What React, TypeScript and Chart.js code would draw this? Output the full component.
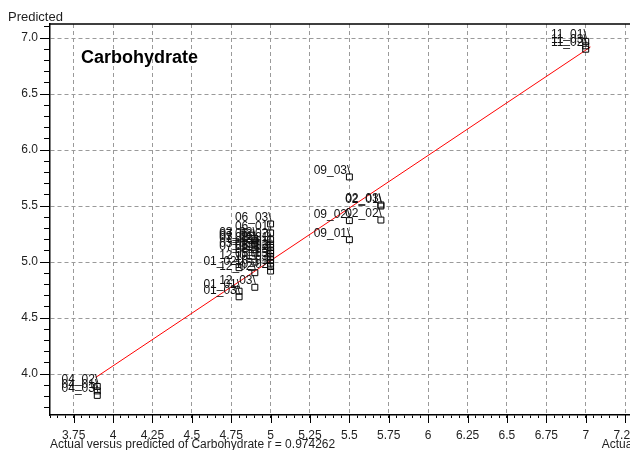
import React, { useEffect, useRef } from "react";
import { Chart, registerables } from "chart.js";

Chart.register(...registerables);

// Sample identifiers (sample_replicate)
const sampleIds = [
  "01_01", "01_02", "01_03",
  "02_01", "02_02", "02_03",
  "03_01", "03_02", "03_03",
  "04_01", "04_02", "04_03",
  "05_01", "05_02", "05_03",
  "06_01", "06_02", "06_03",
  "07_01", "07_02", "07_03",
  "08_01", "08_02", "08_03",
  "09_01", "09_02", "09_03",
  "10_01", "10_02", "10_03",
  "11_01", "11_02", "11_03",
  "12_01", "12_02", "12_03",
];

// Measured carbohydrate content
const actualValues = [
  4.8, 4.8, 4.8,
  5.7, 5.7, 5.7,
  4.9, 4.9, 4.9,
  3.9, 3.9, 3.9,
  5.0, 5.0, 5.0,
  5.0, 5.0, 5.0,
  4.9, 4.9, 4.9,
  5.0, 5.0, 5.0,
  5.5, 5.5, 5.5,
  5.0, 5.0, 5.0,
  7.0, 7.0, 7.0,
  4.9, 4.9, 4.9,
];

// Model predictions
const predictedValues = [
  4.74, 4.95, 4.69,
  5.50, 5.375, 5.51,
  5.17, 5.21, 5.11,
  3.85, 3.89, 3.81,
  5.13, 5.08, 5.02,
  5.26, 5.20, 5.34,
  5.08, 5.15, 5.19,
  5.16, 5.10, 5.05,
  5.20, 5.37, 5.76,
  4.96, 4.92, 4.99,
  6.97, 6.90, 6.93,
  5.00, 4.905, 4.775,
];

// Fitted line end points
const fitX = [3.89, 7.03];
const fitY = [3.97, 6.92];

// Axis ranges and tick spacing
const xRange = [3.6, 7.3];
const yRange = [3.635, 7.125];
const xMinorStep = 0.05;
const xMajorStep = 0.25;
const yMinorStep = 0.1;
const yMajorStep = 0.5;

const chartTitle = "Carbohydrate";
const yAxisTitle = "Predicted";
const xAxisTitle = "Actual versus predicted of Carbohydrate r = 0.974262";
const xAxisShortTitle = "Actual";

const FONT = "'Liberation Sans', Arial, Helvetica, sans-serif";
const TEXT = "#1e1e1e";
const CANVAS_W = 680;
const CANVAS_H = 450;

const isMultiple = (v: number, step: number) =>
  Math.abs(v / step - Math.round(v / step)) < 1e-6;

const decorations = {
  id: "decorations",
  afterDatasetsDraw(chart: any) {
    const { ctx } = chart;
    const meta = chart.getDatasetMeta(0);
    ctx.save();
    ctx.fillStyle = "#111";
    ctx.font = `12px ${FONT}`;
    ctx.textAlign = "right";
    ctx.textBaseline = "alphabetic";
    meta.data.forEach((el: any, i: number) => {
      ctx.fillText(sampleIds[i] + "\\", el.x + 1, el.y - 3);
    });
    ctx.restore();
  },
  afterDraw(chart: any) {
    const { ctx, chartArea: a, scales } = chart;
    const xs = scales.x;
    const ys = scales.y;
    ctx.save();

    // frame on top and right
    ctx.strokeStyle = "#000";
    ctx.lineWidth = 1.5;
    ctx.beginPath();
    ctx.moveTo(a.left, a.top);
    ctx.lineTo(a.right, a.top);
    ctx.lineTo(a.right, a.bottom);
    ctx.stroke();

    // longer marks at the labelled ticks
    ctx.lineWidth = 1;
    ctx.beginPath();
    xs.ticks.forEach((t: any) => {
      if (isMultiple(t.value, xMajorStep)) {
        const px = Math.round(xs.getPixelForValue(t.value)) + 0.5;
        ctx.moveTo(px, a.bottom);
        ctx.lineTo(px, a.bottom + 8);
      }
    });
    ys.ticks.forEach((t: any) => {
      if (isMultiple(t.value, yMajorStep)) {
        const py = Math.round(ys.getPixelForValue(t.value)) + 0.5;
        ctx.moveTo(a.left - 10, py);
        ctx.lineTo(a.left, py);
      }
    });
    ctx.stroke();

    // titles
    ctx.fillStyle = TEXT;
    ctx.textBaseline = "middle";
    ctx.textAlign = "left";
    ctx.font = `13px ${FONT}`;
    ctx.fillText(yAxisTitle, 8, 17);
    ctx.font = `12px ${FONT}`;
    ctx.fillText(xAxisTitle, a.left, 445);
    ctx.textAlign = "right";
    ctx.fillText(xAxisShortTitle, a.right + 2, 445);

    ctx.fillStyle = "#000";
    ctx.textAlign = "left";
    ctx.font = `bold 18px ${FONT}`;
    ctx.fillText(chartTitle, 81, 58);
    ctx.restore();
  },
};

export default function App() {
  const canvasRef = useRef<HTMLCanvasElement | null>(null);

  useEffect(() => {
    if (!canvasRef.current) return;
    const points = actualValues.map((x, i) => ({ x, y: predictedValues[i] }));
    const fit = fitX.map((x, i) => ({ x, y: fitY[i] }));

    const gridColor = (step: number) => (c: any) =>
      c.tick && isMultiple(c.tick.value, step) ? "#9a9a9a" : "rgba(0,0,0,0)";

    const chart = new Chart(canvasRef.current, {
      type: "scatter",
      data: {
        datasets: [
          {
            data: points,
            pointStyle: "rect",
            pointRadius: 4.2,
            pointBorderColor: "#000",
            pointBackgroundColor: "rgba(0,0,0,0)",
            pointBorderWidth: 1,
            showLine: false,
          },
          {
            data: fit,
            showLine: true,
            borderColor: "#ff0000",
            borderWidth: 1,
            pointRadius: 0,
          },
        ],
      },
      options: {
        animation: false,
        responsive: false,
        events: [],
        layout: { padding: { left: 0, top: 24, right: CANVAS_W - 633, bottom: 0 } },
        plugins: {
          legend: { display: false },
          tooltip: { enabled: false },
          title: { display: false },
        },
        scales: {
          x: {
            type: "linear",
            position: "bottom",
            min: xRange[0],
            max: xRange[1],
            afterFit: (s: any) => {
              s.height = 35;
            },
            border: { display: true, color: "#000", width: 1.5, dash: [4, 3] },
            grid: {
              color: gridColor(xMajorStep),
              lineWidth: 1,
              drawTicks: true,
              tickLength: 3,
              tickColor: "#000",
              tickWidth: 1,
              tickBorderDash: [],
            },
            ticks: {
              stepSize: xMinorStep,
              maxTicksLimit: 1000,
              autoSkip: false,
              maxRotation: 0,
              minRotation: 0,
              includeBounds: false,
              padding: 10,
              color: TEXT,
              font: { family: FONT, size: 12 },
              callback: (v: any) =>
                isMultiple(Number(v), xMajorStep) ? String(Math.round(Number(v) * 100) / 100) : "",
            },
          },
          y: {
            type: "linear",
            position: "left",
            min: yRange[0],
            max: yRange[1],
            afterFit: (s: any) => {
              s.width = 50;
            },
            border: { display: true, color: "#000", width: 1.5, dash: [4, 3] },
            grid: {
              color: gridColor(yMajorStep),
              lineWidth: 1,
              drawTicks: true,
              tickLength: 6,
              tickColor: "#000",
              tickWidth: 1,
              tickBorderDash: [],
            },
            ticks: {
              stepSize: yMinorStep,
              maxTicksLimit: 1000,
              autoSkip: false,
              includeBounds: false,
              padding: 6,
              color: TEXT,
              font: { family: FONT, size: 12 },
              callback: (v: any) => (isMultiple(Number(v), yMajorStep) ? Number(v).toFixed(1) : ""),
            },
          },
        },
      } as any,
      plugins: [decorations],
    });
    return () => chart.destroy();
  }, []);

  return (
    <div
      style={{
        position: "fixed",
        left: 0,
        top: 0,
        width: 630,
        height: 450,
        overflow: "hidden",
        background: "#fff",
      }}
    >
      <canvas ref={canvasRef} width={CANVAS_W} height={CANVAS_H} style={{ display: "block" }} />
    </div>
  );
}
